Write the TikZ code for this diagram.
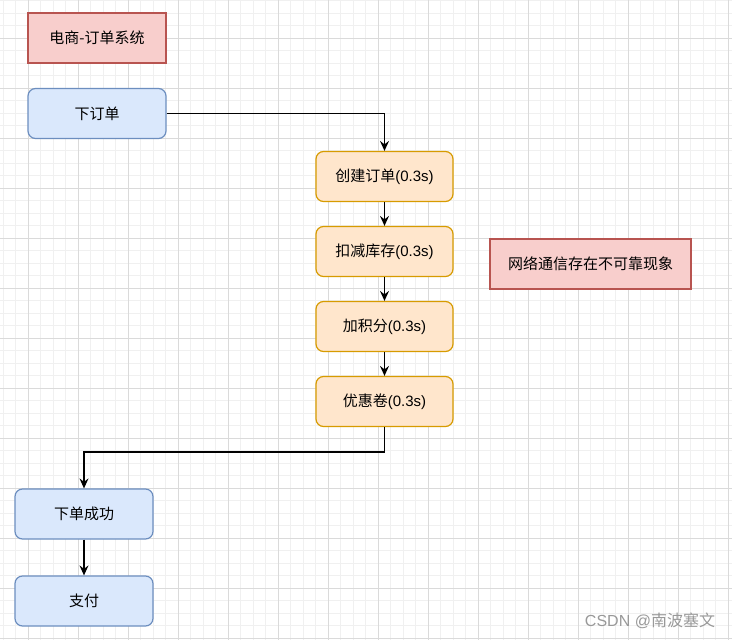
\documentclass[tikz,border=0pt]{standalone}
\usepackage{fontspec}
\setmainfont{Liberation Sans}
\newfontfamily\cjk{Noto Sans CJK SC}
\usetikzlibrary{arrows.meta}
\definecolor{redfill}{HTML}{F8CECC}
\definecolor{redline}{HTML}{B85450}
\definecolor{bluefill}{HTML}{DAE8FC}
\definecolor{blueline}{HTML}{6C8EBF}
\definecolor{orangefill}{HTML}{FFE6CC}
\definecolor{orangeline}{HTML}{D79B00}
\definecolor{minorgrid}{HTML}{F0F0F0}
\definecolor{majorgrid}{HTML}{DADADA}
\tikzset{
	box/.style={line width=1.2pt,minimum width=138pt,minimum height=50pt,inner sep=0pt,font=\fontsize{15}{18}\selectfont},
	redbox/.style={box,draw=redline,fill=redfill},
	bluebox/.style={box,draw=blueline,fill=bluefill,rounded corners=7.5pt},
	orangebox/.style={box,draw=orangeline,fill=orangefill,rounded corners=7.5pt},
	flow/.style={-{Stealth[length=10pt,width=9pt,inset=3.5pt]},line width=1.3pt}
}
\begin{document}
\begin{tikzpicture}[x=1pt,y=-1pt]
		\useasboundingbox(0,0)rectangle(732,640);
		\fill[white](0,0)rectangle(732,640);
		\foreach \x in {3,15.5,...,728} \draw[minorgrid](\x,0)--(\x,640);
		\foreach \y in {0.5,13,...,638} \draw[minorgrid](0,\y)--(732,\y);
		\foreach \x in {28,78,...,728} \draw[majorgrid](\x,0)--(\x,640);
		\foreach \y in {38,88,...,638} \draw[majorgrid](0,\y)--(732,\y);
		\node[redbox](title)at(97,38){\cjk 电商-订单系统};
		\node[bluebox](order)at(97,113.5){\cjk 下订单};
		\node[orangebox,minimum width=137pt](create)at(384.5,176.5){{\cjk 创建订单}(0.3s)};
		\node[orangebox,minimum width=137pt](deduct)at(384.5,251.5){{\cjk 扣减库存}(0.3s)};
		\node[orangebox,minimum width=137pt](points)at(384.5,326.5){{\cjk 加积分}(0.3s)};
		\node[orangebox,minimum width=137pt](coupon)at(384.5,401.5){{\cjk 优惠卷}(0.3s)};
		\node[redbox,minimum width=201pt](note)at(590.5,264){\cjk 网络通信存在不可靠现象};
		\node[bluebox](success)at(84,514){\cjk 下单成功};
		\node[bluebox](pay)at(84,601){\cjk 支付};
		\node[text=black!40,font=\fontsize{16}{18}\selectfont](mark)at(650,621){CSDN @{\cjk 南波塞文}};
		\draw[flow](order.east)-|(create.north);
		\draw[flow](create)--(deduct);
		\draw[flow](deduct)--(points);
		\draw[flow](points)--(coupon);
		\draw[flow](coupon.south)--++(0,25)-|(success.north);
		\draw[flow](success)--(pay);
	    \end{tikzpicture}
\end{document}
